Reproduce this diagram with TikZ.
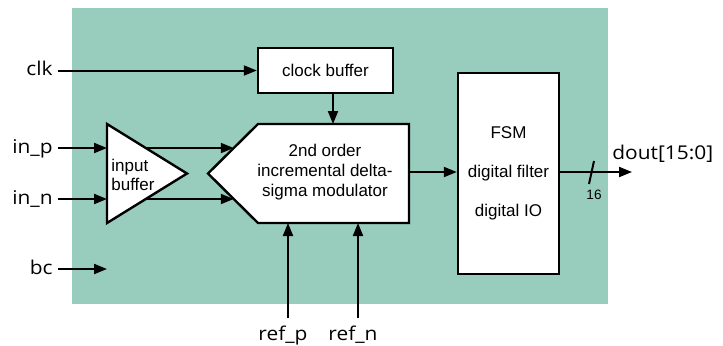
\documentclass[tikz,border=0pt]{standalone}
\usepackage{fontspec}
\setmainfont{Liberation Sans}
\newfontfamily\pinfont[FakeStretch=1.1]{Open Sans}
\usetikzlibrary{arrows.meta, positioning, calc}
\definecolor{chipgreen}{RGB}{152,205,189}

\begin{document}
\begin{tikzpicture}[
    x=0.5pt, y=-0.5pt,
    sig/.style={line width=1pt, -{Triangle[length=6.5pt, width=5pt]}},
    block/.style={draw, line width=1.2pt, fill=white, align=center, inner sep=0pt, font=\fontsize{8.5}{10}\selectfont},
    pin/.style={font=\pinfont\fontsize{9.5}{11}\selectfont, inner xsep=2.5pt, inner ysep=0pt, text height=5pt, text depth=0pt}
]
\useasboundingbox (0,0) rectangle (723,345);
\fill[chipgreen] (72,8) rectangle (608,304);

% blocks
\node[block, minimum width=67.5pt, minimum height=22.5pt] (clkbuf) at (325.5,70.5) {clock buffer};
\node[block, minimum width=50.5pt, minimum height=100.5pt] (fsm) at (508.5,173.5)
    {FSM\\[9.5pt]digital filter\\[9.5pt]digital IO};

\coordinate (modtl) at (258,124);
\coordinate (modtr) at (409,124);
\coordinate (modbr) at (409,223);
\coordinate (modbl) at (258,223);
\coordinate (modtip) at (208,173.5);
\draw[line width=1.2pt, fill=white] (modtl) -- (modtr) -- (modbr) -- (modbl) -- (modtip) -- cycle;
\node[align=center, font=\fontsize{8.5}{10}\selectfont] (mod) at (325,172)
    {2nd order\\incremental delta-\\sigma modulator};

\coordinate (ibtop) at (107,124);
\coordinate (ibtip) at (187,173.5);
\coordinate (ibbot) at (107,223);
\draw[line width=1.2pt, fill=white] (ibtop) -- (ibtip) -- (ibbot) -- cycle;
\node[anchor=west, align=left, inner sep=0pt, font=\fontsize{8.5}{9.5}\selectfont] (ibtext) at (111,175) {input\\buffer};

% pins
\node[pin, anchor=east] (clk) at (58,70.5) {clk};
\node[pin, anchor=east] (inp) at (58,148) {in\_p};
\node[pin, anchor=east] (inn) at (58,199) {in\_n};
\node[pin, anchor=east] (bc) at (58,269) {bc};
\node[pin, anchor=base west, inner xsep=0pt] (dout) at (612,159) {dout[15:0]};
\node[pin, anchor=base, inner xsep=0pt] (refp) at (283,340) {ref\_p};
\node[pin, anchor=base, inner xsep=0pt] (refn) at (353,340) {ref\_n};

% connections
\draw[sig] (clk.east) -- (clkbuf.west);
\draw[sig] (clkbuf.south -| 333,0) -- (modtl -| 333,0);
\draw[sig] (inp.east) -- (inp.east -| ibtop);
\draw[sig] (inn.east) -- (inn.east -| ibbot);
\draw[sig] (bc.east) -- (bc.east -| ibtop);
\draw[sig] ($(ibtop)!0.485!(ibtip)$) -- ($(modtl)!0.485!(modtip)$);
\draw[sig] ($(ibbot)!0.485!(ibtip)$) -- ($(modbl)!0.485!(modtip)$);
\draw[sig] (409,172) -- (fsm.west |- 0,172);

\coordinate (refpin) at (288,318);
\coordinate (refnin) at (358,318);
\draw[sig] (refpin) -- (refpin |- modbl);
\draw[sig] (refnin) -- (refnin |- modbl);

\coordinate (outend) at (632,172);
\draw[sig] (fsm.east |- outend) -- (outend);
\coordinate (bus) at (591.5,172.5);
\draw[line width=1pt] ($(bus)+(2.5,-11.5)$) -- ($(bus)+(-2.5,11.5)$);
\node[font=\fontsize{6.8}{8}\selectfont, inner sep=0pt] (buswidth) at (594,195) {16};

\end{tikzpicture}
\end{document}
